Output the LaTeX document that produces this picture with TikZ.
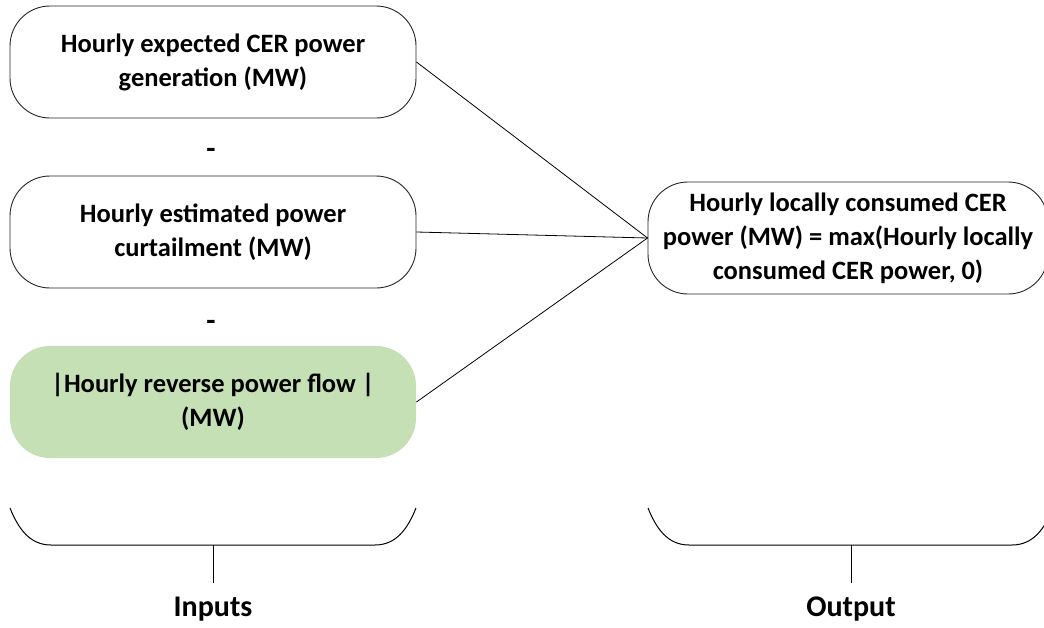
\documentclass[tikz,border=0pt]{standalone}
\usepackage{fontspec}
\setmainfont{Carlito}
\begin{document}
\begin{tikzpicture}[x=1pt,y=-1pt,
  box/.style={draw=black!85, line width=0.9pt, rounded corners=40pt, minimum width=406pt, minimum height=112pt, align=center, font=\fontsize{26.5}{34}\selectfont\bfseries, inner sep=0pt},
  conn/.style={draw=black, line width=0.8pt},
  brk/.style={draw=black, line width=1pt},
  lbl/.style={font=\fontsize{30}{34}\selectfont\bfseries, inner sep=0pt},
  op/.style={font=\fontsize{30}{34}\selectfont\bfseries, inner sep=0pt}]
\useasboundingbox (0,0) rectangle (1044,627);
\clip (0,0) rectangle (1044,627);
\node[box] (gen) at (213,62) {Hourly expected CER power\\generation (MW)};
\node[op] (m1) at (211,153) {-};
\node[box] (cur) at (213,232) {Hourly estimated power\\curtailment (MW)};
\node[op] (m2) at (211,325) {-};
\node[box, draw=none, fill={rgb,255:red,197;green,224;blue,180}] (rev) at (213,402) {|Hourly reverse power flow |\\(MW)};
\node[box, minimum width=400pt] (out) at (848,238) {Hourly locally consumed CER\\power (MW) = max(Hourly locally\\consumed CER power, 0)};
\draw[conn] (gen.east) -- (out.west);
\draw[conn] (cur.east) -- (out.west);
\draw[conn] (rev.east) -- (out.west);
% input bracket
\coordinate (ia) at (10,508);
\coordinate (ib) at (51,545);
\coordinate (ic) at (375,545);
\coordinate (id) at (416,508);
\coordinate (im) at (213,545);
\coordinate (it) at (213,583);
\draw[brk] (ia) to[out=-68,in=180] (ib) -- (ic) to[out=0,in=-112] (id);
\draw[brk] (im) -- (it);
\node[lbl] (inl) at (213,609) {Inputs};
% output bracket
\coordinate (oa) at (648,508);
\coordinate (ob) at (689,545);
\coordinate (oc) at (1012,545);
\coordinate (od) at (1053,508);
\coordinate (om) at (851,545);
\coordinate (ot) at (851,583);
\draw[brk] (oa) to[out=-68,in=180] (ob) -- (oc) to[out=0,in=-112] (od);
\draw[brk] (om) -- (ot);
\node[lbl] (outl) at (851,609) {Output};
\end{tikzpicture}
\end{document}
